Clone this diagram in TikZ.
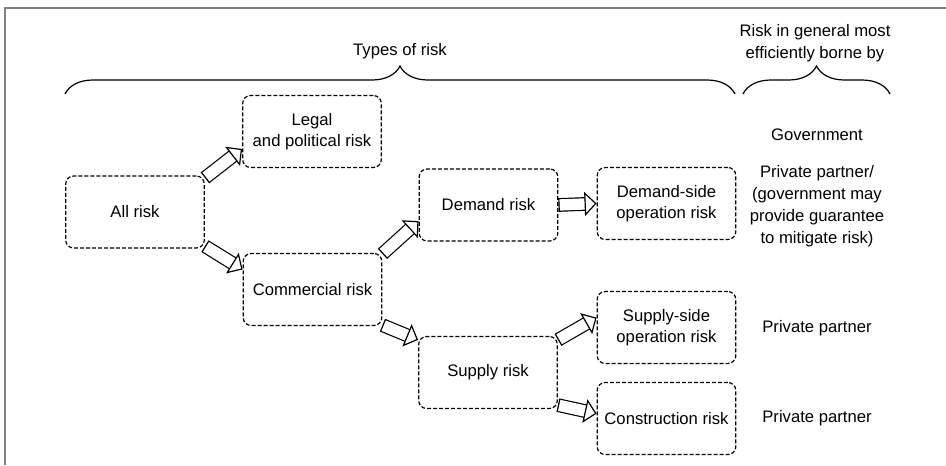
\documentclass[tikz,border=0pt]{standalone}
\usepackage{fontspec}
\setmainfont{Liberation Sans}
\usetikzlibrary{arrows.meta, decorations.pathreplacing}

\begin{document}
\begin{tikzpicture}[x=0.75pt, y=-0.75pt,
  riskbox/.style={draw, line width=0.9pt, dash pattern=on 3pt off 1.5pt,
    rounded corners=6pt, minimum width=104pt, minimum height=54pt,
    align=center, font=\fontsize{12.5}{15.5}\selectfont},
  bigarrow/.style={double, double distance=8.5pt, line width=0.9pt,
    {Bar[width=10.3pt, line width=0.9pt]}-{Triangle[open, length=9pt, width=18pt, line width=0.9pt]}},
  owner/.style={align=center, font=\fontsize{12.5}{16.5}\selectfont},
  riskbrace/.style={decorate, decoration={brace, amplitude=21pt}, line width=0.9pt}]
\useasboundingbox (0,0) rectangle (946,465);
\draw[gray, line width=0.8pt] (5,465) -- (5,8) -- (946,8);

% headings over the two columns
\coordinate (typesL) at (65,94);
\coordinate (typesR) at (735,94);
\coordinate (borneL) at (743,94);
\coordinate (borneR) at (890,94);
\draw[riskbrace] (typesL) -- (typesR);
\draw[riskbrace] (borneL) -- (borneR);
\node[owner] (types) at (400,51) {Types of risk};
\node[owner] (borne) at (815,43) {Risk in general most\\efficiently borne by};

% risk tree
\node[riskbox] (allrisk) at (135,212) {All risk};
\node[riskbox] (legal) at (312,131.5) {Legal\\and political risk};
\node[riskbox] (commercial) at (312.5,289.5) {Commercial risk};
\node[riskbox] (demand) at (488.5,205) {Demand risk};
\node[riskbox] (supply) at (488,372.5) {Supply risk};
\node[riskbox] (demandside) at (666.5,203.5) {Demand-side\\operation risk};
\node[riskbox] (supplyside) at (666.5,327.5) {Supply-side\\operation risk};
\node[riskbox] (construction) at (666.5,418.5) {Construction risk};

\draw[bigarrow] (allrisk.26) -- (legal.194);
\draw[bigarrow] (allrisk.334) -- (commercial.164);
\draw[bigarrow] (commercial.27) -- (demand.193);
\draw[bigarrow] (commercial.333) -- (supply.155);
\draw[bigarrow] (demand.east) -- (demandside.west);
\draw[bigarrow] (supply.25) -- (supplyside.172);
\draw[bigarrow] (supply.335) -- (construction.176);

% who carries it
\node[owner] (gov) at (817,135) {Government};
\node[owner] (pp1) at (817,206.5) {Private partner/\\(government may\\provide guarantee\\to mitigate risk)};
\node[owner] (pp2) at (817,328) {Private partner};
\node[owner] (pp3) at (817,418) {Private partner};
\end{tikzpicture}
\end{document}
